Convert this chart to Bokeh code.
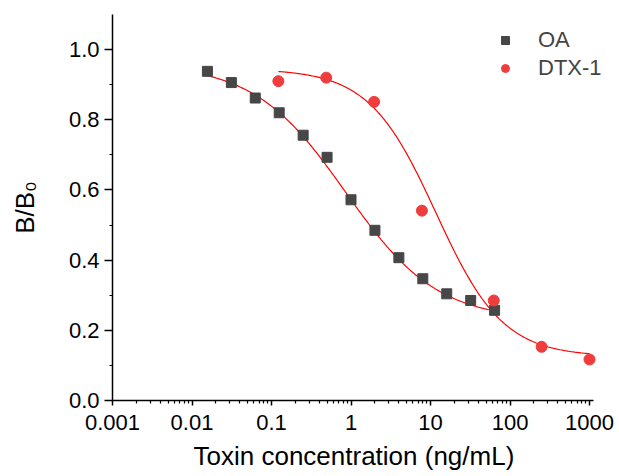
import numpy as np
from bokeh.plotting import figure
from bokeh.models import Range1d, FixedTicker, Legend, LegendItem, LogAxis, LogScale, Title
from bokeh.embed import file_html
from bokeh.resources import INLINE

# ---- data ----
oa_conc = [0.015625, 0.03125, 0.0625, 0.125, 0.25, 0.5, 1, 2, 4, 8, 16, 32, 64]
oa_bb0 = [0.938, 0.906, 0.862, 0.820, 0.756, 0.693, 0.572, 0.485, 0.407, 0.347, 0.304, 0.285, 0.257]

dtx_conc = [0.122, 0.488, 1.95, 7.8, 62.5, 250, 1000]
dtx_bb0 = [0.910, 0.920, 0.851, 0.541, 0.285, 0.153, 0.117]

# four-parameter logistic fit parameters (A1 top, A2 bottom, x0, p)
oa_fit = (0.96, 0.228, 0.853, 0.754)
dtx_fit = (0.945, 0.125, 11.7, 1.03)

x_ticks = [0.001, 0.01, 0.1, 1, 10, 100, 1000]
x_tick_labels = ["0.001", "0.01", "0.1", "1", "10", "100", "1000"]
y_ticks = [0.0, 0.2, 0.4, 0.6, 0.8, 1.0]
y_minor = [0.1, 0.3, 0.5, 0.7, 0.9]

FONT = "Liberation Sans"


def logistic(x, params):
    a1, a2, x0, p = params
    return a2 + (a1 - a2) / (1.0 + (x / x0) ** p)


oa_x = np.logspace(np.log10(oa_conc[0]), np.log10(oa_conc[-1]), 300)
dtx_x = np.logspace(np.log10(dtx_conc[0]), np.log10(dtx_conc[-1]), 300)

# frame spans to the right edge so the legend is not clipped; the axis itself
# is limited with bounds
p = figure(width=619, height=476, x_axis_type=None, y_axis_type="linear",
           x_range=Range1d(0.001, 2383), y_range=Range1d(0, 1.1),
           output_backend="svg", toolbar_location=None,
           min_border_left=112, min_border_right=0, min_border_top=14,
           min_border_bottom=75)
p.x_scale = LogScale()
p.outline_line_color = None
p.xgrid.visible = False
p.ygrid.visible = False

# log x axis
xaxis = LogAxis(bounds=(0.001, 1122))
minor = [m * d for d in [0.001, 0.01, 0.1, 1, 10, 100] for m in range(2, 10)]
xaxis.ticker = FixedTicker(ticks=x_ticks, minor_ticks=minor)
xaxis.major_label_overrides = {t: l for t, l in zip(x_ticks, x_tick_labels)}
p.add_layout(xaxis, "below")

yaxis = p.yaxis[0]
yaxis.ticker = FixedTicker(ticks=y_ticks, minor_ticks=y_minor)
yaxis.major_label_overrides = {t: f"{t:.1f}" for t in y_ticks}

for ax, tick_out, standoff in ((xaxis, 5, 9), (yaxis, 8, 5)):
    ax.axis_line_width = 1.5
    ax.axis_line_color = "black"
    ax.major_tick_line_width = 1.5
    ax.minor_tick_line_width = 1.2
    ax.major_tick_line_color = "black"
    ax.minor_tick_line_color = "black"
    ax.major_tick_in = 0
    ax.major_tick_out = tick_out
    ax.minor_tick_in = 0
    ax.minor_tick_out = 3
    ax.major_label_text_font = FONT
    ax.major_label_text_font_size = "22px"
    ax.major_label_text_color = "black"
    ax.major_label_standoff = standoff

# x axis title, aligned to the bounded axis (not the wider frame)
xtitle = Title(text="Toxin concentration (ng/mL)", align="left", offset=81,
               text_font=FONT, text_font_size="26px", text_font_style="normal",
               text_color="black", standoff=12)
p.add_layout(xtitle, "below")

yaxis.axis_label = "B/B\u2080"
yaxis.axis_label_standoff = 26
yaxis.axis_label_text_font = FONT
yaxis.axis_label_text_font_size = "26px"
yaxis.axis_label_text_font_style = "normal"
yaxis.axis_label_text_color = "black"

# fit curves
p.line(oa_x, logistic(oa_x, oa_fit), line_color="#ff0000", line_width=1.2)
p.line(dtx_x, logistic(dtx_x, dtx_fit), line_color="#ff0000", line_width=1.2)

# points
r_oa = p.scatter(oa_conc, oa_bb0, marker="square", size=10,
                 fill_color="#474747", line_color="#474747")
r_dtx = p.scatter(dtx_conc, dtx_bb0, marker="circle", size=11,
                  fill_color="#f03c3c", line_color="#f03c3c")

legend = Legend(items=[LegendItem(label="OA", renderers=[r_oa]),
                       LegendItem(label="DTX-1", renderers=[r_dtx])],
                location=(383, 318), padding=0, spacing=0,
                glyph_width=20, glyph_height=28, label_height=28,
                label_standoff=23, border_line_color=None,
                background_fill_alpha=0,
                label_text_font=FONT, label_text_font_size="22px")
p.add_layout(legend, "center")

open("out.html", "w").write(file_html(p, INLINE))
